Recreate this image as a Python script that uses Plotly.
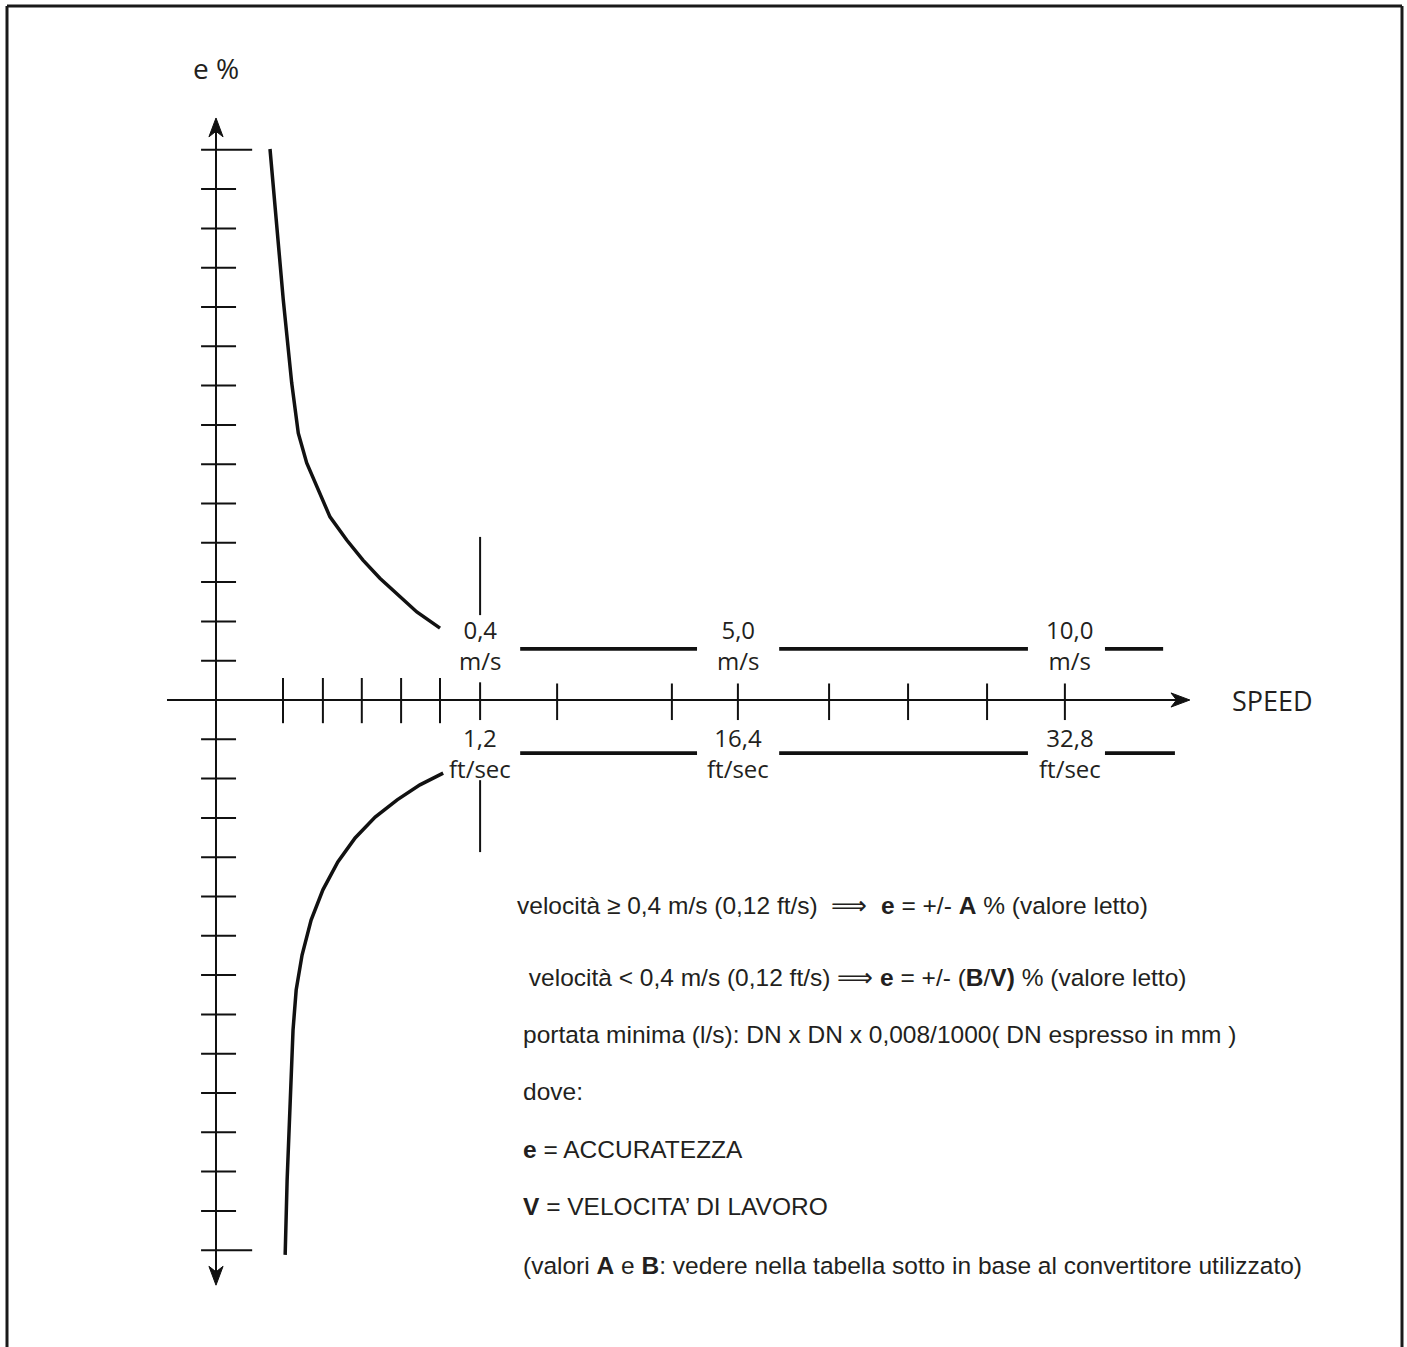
import plotly.graph_objects as go

# ---- schematic data (diagram units: 1 unit = one tick step; origin at axes crossing) ----
y_tick_levels = list(range(-14, 0)) + list(range(1, 15))
x_ticks_near = [1.705, 2.72, 3.71, 4.71, 5.70]
x_tick_threshold = 6.72
x_ticks_far = [8.68, 11.60, 13.28, 15.60, 17.61, 19.62, 21.60]

speed_label_x = [6.72, 13.28, 21.72]
speed_ms = ["0,4", "5,0", "10,0"]
speed_fts = ["1,2", "16,4", "32,8"]

upper_curve_x = [1.374, 1.55, 1.712, 1.926, 2.094, 2.308, 2.646, 2.90, 3.326, 3.74, 4.17, 4.60, 5.11, 5.70]
upper_curve_y = [14.02, 12.0, 10.18, 8.07, 6.79, 6.03, 5.27, 4.66, 4.07, 3.56, 3.10, 2.72, 2.24, 1.83]
lower_curve_x = [5.78, 5.19, 4.61, 4.05, 3.54, 3.10, 2.72, 2.42, 2.19, 2.04, 1.96, 1.88, 1.81, 1.76]
lower_curve_y = [-1.86, -2.16, -2.54, -2.98, -3.51, -4.12, -4.83, -5.60, -6.49, -7.38, -8.40, -10.18, -12.21, -14.12]

upper_level = 1.30
lower_level = -1.35
upper_segments = [(7.74, 12.24), (14.33, 20.66), (22.62, 24.10)]
lower_segments = [(7.74, 12.24), (14.33, 20.66), (22.62, 24.40)]

notes = [
    "velocità ≥ 0,4 m/s (0,12 ft/s)  ⟹  <b>e</b> = +/- <b>A</b> % (valore letto)",
    " velocità &lt; 0,4 m/s (0,12 ft/s) ⟹ <b>e</b> = +/- (<b>B</b>/<b>V)</b> % (valore letto)",
    "portata minima (l/s): DN x DN x 0,008/1000( DN espresso in mm )",
    "dove:",
    "<b>e</b> = ACCURATEZZA",
    "<b>V</b> = VELOCITA’ DI LAVORO",
    "(valori <b>A</b> e <b>B</b>: vedere nella tabella sotto in base al convertitore utilizzato)",
]
notes_x = [7.61, 7.74, 7.76, 7.76, 7.76, 7.76, 7.76]
notes_y = [-5.22, -7.05, -8.50, -9.95, -11.45, -12.90, -14.38]

W, H = 1407, 1347
PX = 39.3
OX, OY = 216, 700
XR = [-OX / PX, (W - OX) / PX]
YR = [(OY - H) / PX, OY / PX]

INK = "#111111"
TXT = "#231f20"

fig = go.Figure()

def add_lines(xs, ys, width, color=INK):
    fig.add_trace(go.Scatter(x=xs, y=ys, mode="lines", line=dict(color=color, width=width),
                             hoverinfo="skip", showlegend=False))

# axes
add_lines([-1.247, 24.5], [0, 0], 2)
add_lines([0, 0], [14.6, -14.7], 2)

# y ticks
tx, ty = [], []
for v in y_tick_levels:
    right = 0.92 if abs(v) == 14 else 0.51
    tx += [-0.38, right, None]
    ty += [v, v, None]
add_lines(tx, ty, 2)

# x ticks
tx, ty = [], []
for v in x_ticks_near:
    tx += [v, v, None]; ty += [0.56, -0.59, None]
for v in x_ticks_far:
    tx += [v, v, None]; ty += [0.42, -0.51, None]
tx += [x_tick_threshold, x_tick_threshold, None]; ty += [0.45, -0.51, None]
tx += [x_tick_threshold, x_tick_threshold, None]; ty += [4.15, 2.16, None]
tx += [x_tick_threshold, x_tick_threshold, None]; ty += [-2.04, -3.87, None]
add_lines(tx, ty, 2)

# arrowheads
for ax_, ay_ in [
    ([0, -0.18, 0, 0.18, 0], [14.81, 14.33, 14.47, 14.33, 14.81]),
    ([0, -0.18, 0, 0.18, 0], [-14.89, -14.41, -14.55, -14.41, -14.89]),
    ([24.78, 24.30, 24.44, 24.30, 24.78], [0, 0.18, 0, -0.18, 0]),
]:
    fig.add_trace(go.Scatter(x=ax_, y=ay_, mode="lines", fill="toself", fillcolor=INK,
                             line=dict(color=INK, width=1), hoverinfo="skip", showlegend=False))

# curves
add_lines(upper_curve_x, upper_curve_y, 3.5)
add_lines(lower_curve_x, lower_curve_y, 3.5)

# horizontal plateau segments
sx, sy = [], []
for a, b in upper_segments:
    sx += [a, b, None]; sy += [upper_level, upper_level, None]
for a, b in lower_segments:
    sx += [a, b, None]; sy += [lower_level, lower_level, None]
add_lines(sx, sy, 3.8)

annotations = []
lab_font = dict(family="Open Sans, Noto Sans, sans-serif", size=24, color=TXT)
for x, t1, t2 in zip(speed_label_x, speed_ms, speed_fts):
    annotations.append(dict(x=x, y=(OY - 645) / PX, text=t1 + "<br>m/s", showarrow=False, font=lab_font,
                            xanchor="center", yanchor="middle"))
    annotations.append(dict(x=x, y=(OY - 753) / PX, text=t2 + "<br>ft/sec", showarrow=False, font=lab_font,
                            xanchor="center", yanchor="middle"))

annotations.append(dict(x=(216 - OX) / PX, y=(OY - 68) / PX, text="e %", showarrow=False,
                        font=dict(family="Open Sans, Noto Sans, sans-serif", size=28, color=TXT),
                        xanchor="center", yanchor="middle"))
annotations.append(dict(x=(1230 - OX) / PX, y=(OY - 700) / PX, text="SPEED", showarrow=False,
                        font=dict(family="Open Sans, Noto Sans, sans-serif", size=27, color=TXT),
                        xanchor="left", yanchor="middle"))

note_font = dict(family="Liberation Sans, Arial, sans-serif", size=24.5, color=TXT)
for t, x, y in zip(notes, notes_x, notes_y):
    annotations.append(dict(x=x, y=y, text=t, showarrow=False, font=note_font,
                            xanchor="left", yanchor="middle"))

fig.update_layout(
    width=W, height=H, autosize=False,
    margin=dict(l=0, r=0, t=0, b=0),
    paper_bgcolor="white", plot_bgcolor="white",
    xaxis=dict(range=XR, visible=False, fixedrange=True),
    yaxis=dict(range=YR, visible=False, fixedrange=True),
    annotations=annotations,
    shapes=[
        dict(type="line", xref="paper", yref="paper", x0=7 / W, x1=7 / W, y0=0, y1=1 - 6 / H,
             line=dict(color="#1a1a1a", width=3)),
        dict(type="line", xref="paper", yref="paper", x0=7 / W, x1=1402 / W, y0=1 - 6 / H, y1=1 - 6 / H,
             line=dict(color="#1a1a1a", width=3)),
        dict(type="line", xref="paper", yref="paper", x0=1402 / W, x1=1402 / W, y0=0, y1=1 - 6 / H,
             line=dict(color="#1a1a1a", width=3)),
    ],
    showlegend=False,
)

fig.write_html("out.html", config={"displayModeBar": False},
               post_script="document.body.style.margin='0';document.body.style.overflow='hidden';")
